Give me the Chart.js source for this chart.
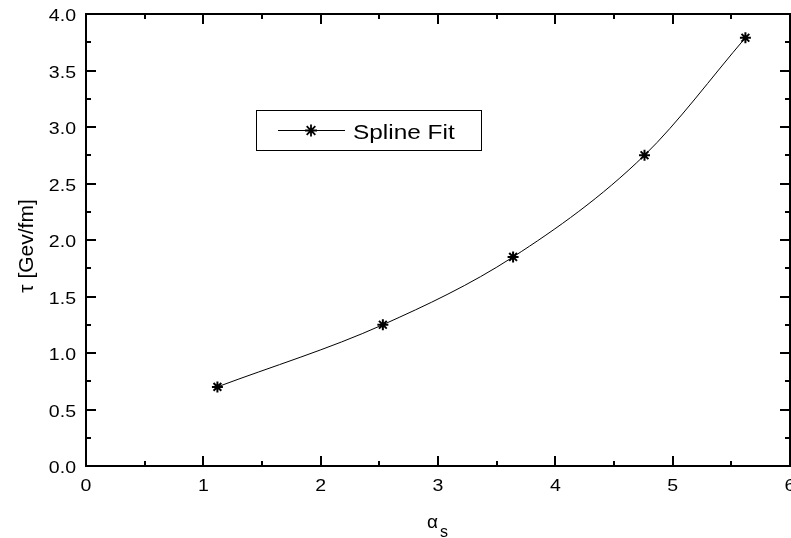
<!DOCTYPE html>
<html>
<head>
<meta charset="utf-8">
<script src="https://cdn.jsdelivr.net/npm/chart.js@4"></script>
<style>
  html, body { margin: 0; padding: 0; background: #fff; }
  #wrap { width: 791px; height: 538px; }
</style>
</head>
<body>
<div id="wrap"><canvas id="c" width="791" height="538"></canvas></div>
<script>
// dados
const alphaS = [1.12, 2.53, 3.64, 4.76, 5.62];
const tau = [0.70, 1.25, 1.85, 2.75, 3.79];
const xTicks = [0, 1, 2, 3, 4, 5, 6];
const yTicks = [0.0, 0.5, 1.0, 1.5, 2.0, 2.5, 3.0, 3.5, 4.0];
const seriesName = "Spline Fit";

const FONT = "Liberation Sans, Arial, sans-serif";
const STRETCH = 1.22; // texto do original é mais largo

function wideText(ctx, txt, x, y, align) {
  const w = ctx.measureText(txt).width * STRETCH;
  let x0 = x;
  if (align === "right") x0 = x - w;
  else if (align === "center") x0 = x - w / 2;
  ctx.save();
  ctx.translate(x0, y);
  ctx.scale(STRETCH, 1);
  ctx.textAlign = "left";
  ctx.fillText(txt, 0, 0);
  ctx.restore();
}

// moldura, ticks para dentro, títulos e legenda
const framePlugin = {
  id: "frame",
  afterDraw(chart) {
    const ctx = chart.ctx;
    const a = chart.chartArea;
    const xs = chart.scales.x, ys = chart.scales.y;
    ctx.save();
    ctx.strokeStyle = "#000";
    ctx.lineWidth = 2;
    ctx.strokeRect(a.left, a.top, a.right - a.left, a.bottom - a.top);

    ctx.beginPath();
    for (let v = 0; v <= 6; v += 0.5) {
      const len = Number.isInteger(v) ? 10 : 5;
      const px = Math.round(xs.getPixelForValue(v));
      ctx.moveTo(px, a.bottom); ctx.lineTo(px, a.bottom - len);
      ctx.moveTo(px, a.top); ctx.lineTo(px, a.top + len);
    }
    for (let v = 0; v <= 4; v += 0.25) {
      const len = (Math.round(v * 4) % 2 === 0) ? 10 : 5;
      const py = Math.round(ys.getPixelForValue(v));
      ctx.moveTo(a.left, py); ctx.lineTo(a.left + len, py);
      ctx.moveTo(a.right, py); ctx.lineTo(a.right - len, py);
    }
    ctx.stroke();

    // tick labels
    ctx.fillStyle = "#000";
    ctx.font = "16px " + FONT;
    ctx.textBaseline = "alphabetic";
    yTicks.forEach(v => wideText(ctx, v.toFixed(1), a.left - 10, ys.getPixelForValue(v) + 7, "right"));
    xTicks.forEach(v => wideText(ctx, String(v), xs.getPixelForValue(v), a.bottom + 25, "center"));

    // título x: alpha_s
    ctx.font = "19px " + FONT;
    ctx.textAlign = "left";
    ctx.fillText("α", 427, 528);
    ctx.font = "16px " + FONT;
    ctx.fillText("s", 440, 537);

    // título y
    ctx.save();
    ctx.translate(33, 246);
    ctx.rotate(-Math.PI / 2);
    ctx.font = "21px " + FONT;
    ctx.textAlign = "center";
    ctx.fillText("τ [Gev/fm]", 0, 0);
    ctx.restore();

    // legenda
    ctx.lineWidth = 1;
    ctx.strokeRect(256.5, 110.5, 225, 40);
    ctx.beginPath();
    ctx.moveTo(278, 130.5); ctx.lineTo(345, 130.5);
    ctx.stroke();
    const m = 311, n = 130.5, r = 6;
    ctx.lineWidth = 1.8;
    ctx.beginPath();
    ctx.moveTo(m - r, n); ctx.lineTo(m + r, n);
    ctx.moveTo(m, n - r); ctx.lineTo(m, n + r);
    const d = r * 0.72;
    ctx.moveTo(m - d, n - d); ctx.lineTo(m + d, n + d);
    ctx.moveTo(m - d, n + d); ctx.lineTo(m + d, n - d);
    ctx.stroke();
    ctx.font = "20px " + FONT;
    wideText(ctx, seriesName, 353, 139, "left");
    ctx.restore();
  }
};

new Chart(document.getElementById("c"), {
  type: "line",
  data: {
    datasets: [{
      label: seriesName,
      data: alphaS.map((x, i) => ({ x: x, y: tau[i] })),
      borderColor: "#000",
      borderWidth: 1,
      cubicInterpolationMode: "monotone",
      pointStyle: "star",
      pointRadius: 5.5,
      pointBorderWidth: 2,
      pointBorderColor: "#000",
      pointBackgroundColor: "#000",
      fill: false
    }]
  },
  options: {
    responsive: false,
    animation: false,
    layout: { autoPadding: false, padding: { top: 14, right: 1, left: 0, bottom: 0 } },
    plugins: { legend: { display: false }, tooltip: { enabled: false } },
    scales: {
      x: {
        type: "linear", min: 0, max: 6,
        grid: { display: false }, border: { display: false },
        ticks: { display: false },
        afterFit(s) { s.height = 72; s.paddingLeft = 0; s.paddingRight = 0; }
      },
      y: {
        type: "linear", min: 0, max: 4,
        grid: { display: false }, border: { display: false },
        ticks: { display: false },
        afterFit(s) { s.width = 86; }
      }
    }
  },
  plugins: [framePlugin]
});
</script>
</body>
</html>
